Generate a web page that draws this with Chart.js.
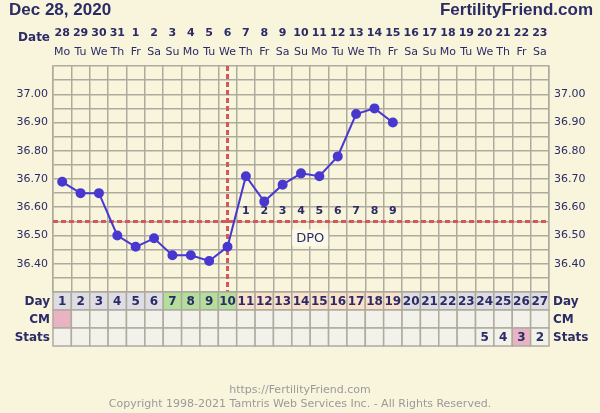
<!DOCTYPE html>
<html>
<head>
<meta charset="utf-8">
<script src="https://cdn.jsdelivr.net/npm/chart.js@4.4.1/dist/chart.umd.min.js"></script>
<style>
  html, body { margin: 0; padding: 0; background: #f8f5dc; }
  canvas { display: block; }
</style>
</head>
<body>
<canvas id="chart" width="600" height="413"></canvas>
<script>
// Chart data
const chartDate = 'Dec 28, 2020';
const dates = ['28','29','30','31','1','2','3','4','5','6','7','8','9','10','11','12','13','14','15','16','17','18','19','20','21','22','23'];
const weekdays = ['Mo','Tu','We','Th','Fr','Sa','Su','Mo','Tu','We','Th','Fr','Sa','Su','Mo','Tu','We','Th','Fr','Sa','Su','Mo','Tu','We','Th','Fr','Sa'];
const cycleDays = ['1','2','3','4','5','6','7','8','9','10','11','12','13','14','15','16','17','18','19','20','21','22','23','24','25','26','27'];
const temps = [36.69, 36.65, 36.65, 36.50, 36.46, 36.49, 36.43, 36.43, 36.41, 36.46,
               36.71, 36.62, 36.68, 36.72, 36.71, 36.78, 36.93, 36.95, 36.90,
               null, null, null, null, null, null, null, null];
const coverline = 36.55;
const ovulationDay = 10;
const dpoLabels = ['', '', '', '', '', '', '', '', '', '', '1', '2', '3', '4', '5', '6', '7', '8', '9', '', '', '', '', '', '', '', ''];
// day cell colour groups: g = grey, f = fertile (green), l = luteal (peach)
const dayGroups = ['g','g','g','g','g','g','f','f','f','f','l','l','l','l','l','l','l','l','l','g','g','g','g','g','g','g','g'];
const cmMarks = ['p','','','','','','','','','','','','','','','','','','','','','','','','','',''];
const stats = ['','','','','','','','','','','','','','','','','','','','','','','','5','4','3','2'];
const statsMarks = ['','','','','','','','','','','','','','','','','','','','','','','','','','p',''];

const navy = '#2b2b66';
const gridColor = '#aeab9e';
const dashRed = '#d2585c';
const groupColors = { g: '#dedde4', f: '#b3df9a', l: '#fbe1c9' };
const markColors = { p: '#e8b3c3' };

// draws header, table rows, coverline, DPO labels and footer around the plot
const fertilityPlugin = {
  id: 'fertility',
  beforeDraw(chart) {
    const ctx = chart.ctx;
    ctx.save();
    ctx.fillStyle = '#f8f5dc';
    ctx.fillRect(0, 0, chart.width, chart.height);
    ctx.restore();
  },
  beforeDatasetsDraw(chart) {
    const ctx = chart.ctx;
    const x = chart.scales.x;
    const y = chart.scales.y;
    const area = chart.chartArea;
    ctx.save();

    // coverline and ovulation line
    ctx.strokeStyle = dashRed;
    ctx.lineWidth = 3;
    ctx.setLineDash([5, 3]);
    const cy = y.getPixelForValue(coverline);
    ctx.beginPath();
    ctx.moveTo(area.left, cy);
    ctx.lineTo(area.right, cy);
    ctx.stroke();
    const ox = x.getPixelForValue(ovulationDay - 1);
    ctx.beginPath();
    ctx.moveTo(ox, area.top);
    ctx.lineTo(ox, area.bottom);
    ctx.stroke();
    ctx.setLineDash([]);

    // DPO numbers
    ctx.fillStyle = navy;
    ctx.font = 'bold 11px "DejaVu Sans"';
    ctx.textAlign = 'center';
    ctx.textBaseline = 'middle';
    dpoLabels.forEach((t, i) => {
      if (t) ctx.fillText(t, x.getPixelForValue(i), cy - 10);
    });

    // DPO box
    const bx = (x.getPixelForValue(13) + x.getPixelForValue(14)) / 2;
    ctx.fillStyle = '#fbf9e8';
    ctx.fillRect(bx - 18, cy + 8, 36, 17);
    ctx.fillStyle = navy;
    ctx.font = '13px "DejaVu Sans"';
    ctx.fillText('DPO', bx, cy + 17);
    ctx.restore();
  },
  afterDraw(chart) {
    const ctx = chart.ctx;
    const x = chart.scales.x;
    const area = chart.chartArea;
    const colW = x.getPixelForValue(1) - x.getPixelForValue(0);
    const rowH = 18;
    ctx.save();
    ctx.textAlign = 'center';
    ctx.textBaseline = 'middle';

    // header
    ctx.fillStyle = navy;
    ctx.font = 'bold 17px "Liberation Sans"';
    ctx.textAlign = 'left';
    ctx.fillText(chartDate, 9, 10);
    ctx.textAlign = 'right';
    ctx.fillText('FertilityFriend.com', 593, 10);
    ctx.font = 'bold 12px "DejaVu Sans"';
    ctx.fillText('Date', 50, 38);
    ctx.textAlign = 'center';
    dates.forEach((d, i) => {
      const cx = x.getPixelForValue(i);
      ctx.font = 'bold 11px "DejaVu Sans"';
      ctx.fillStyle = navy;
      ctx.fillText(d, cx, 33);
      ctx.font = '11px "DejaVu Sans"';
      ctx.fillText(weekdays[i], cx, 52);
    });

    // table rows under the plot
    const top = area.bottom;
    const rows = [
      { name: 'Day', texts: cycleDays, fills: dayGroups.map(g => groupColors[g]) },
      { name: 'CM', texts: cmMarks.map(() => ''), fills: cmMarks.map(m => m ? markColors[m] : '#f3f2ea') },
      { name: 'Stats', texts: stats, fills: statsMarks.map(m => m ? markColors[m] : '#f3f2ea') }
    ];
    rows.forEach((row, r) => {
      const ry = top + r * rowH;
      row.texts.forEach((t, i) => {
        const left = x.getPixelForValue(i) - colW / 2;
        ctx.fillStyle = row.fills[i];
        ctx.fillRect(left, ry, colW, rowH);
        ctx.strokeStyle = gridColor;
        ctx.lineWidth = 1.5;
        ctx.strokeRect(left, ry, colW, rowH);
        if (t) {
          ctx.fillStyle = navy;
          ctx.font = 'bold 12px "DejaVu Sans"';
          ctx.textAlign = 'center';
          ctx.fillText(t, x.getPixelForValue(i), ry + rowH / 2 + 1);
        }
      });
      ctx.fillStyle = navy;
      ctx.font = 'bold 12px "DejaVu Sans"';
      ctx.textAlign = 'right';
      ctx.fillText(row.name, area.left - 3, ry + rowH / 2 + 1);
      ctx.textAlign = 'left';
      ctx.fillText(row.name, area.right + 4, ry + rowH / 2 + 1);
    });

    // footer
    ctx.textAlign = 'center';
    ctx.fillStyle = '#9a9a9a';
    ctx.font = '11px "DejaVu Sans"';
    ctx.fillText('https://FertilityFriend.com', 300, 390);
    ctx.fillText('Copyright 1998-2021 Tamtris Web Services Inc. - All Rights Reserved.', 300, 404);
    ctx.restore();
  }
};

const tempTick = v => {
  const h = Math.round(v * 100);
  return (h % 10 === 0 && h >= 3640 && h <= 3700) ? (h / 100).toFixed(2) : '';
};

new Chart(document.getElementById('chart'), {
  type: 'line',
  data: {
    labels: cycleDays,
    datasets: [{
      data: temps,
      borderColor: '#4838d0',
      backgroundColor: '#4838d0',
      borderWidth: 2,
      pointRadius: 4,
      pointHoverRadius: 4,
      tension: 0,
      spanGaps: false
    }]
  },
  options: {
    responsive: false,
    animation: false,
    events: [],
    layout: { padding: { top: 66, bottom: 67, left: 0, right: 0 } },
    plugins: { legend: { display: false }, tooltip: { enabled: false } },
    scales: {
      x: {
        offset: true,
        grid: { offset: true, color: gridColor, lineWidth: 1.5, drawTicks: false },
        border: { color: gridColor, width: 1.5 },
        ticks: { display: false },
        afterFit: s => { s.height = 54; }
      },
      y: {
        min: 36.30,
        max: 37.10,
        ticks: { stepSize: 0.05, callback: tempTick, color: navy, font: { family: 'DejaVu Sans', size: 11 }, padding: 5, autoSkip: false },
        grid: { color: gridColor, lineWidth: 1.5, drawTicks: false },
        border: { color: gridColor, width: 1.5 },
        afterFit: s => { s.width = 53; }
      },
      y2: {
        position: 'right',
        min: 36.30,
        max: 37.10,
        ticks: { stepSize: 0.05, callback: tempTick, color: navy, font: { family: 'DejaVu Sans', size: 11 }, padding: 5, autoSkip: false },
        grid: { drawOnChartArea: false, drawTicks: false },
        border: { color: gridColor, width: 1.5 },
        afterFit: s => { s.width = 51; }
      }
    }
  },
  plugins: [fertilityPlugin]
});
</script>
</body>
</html>
